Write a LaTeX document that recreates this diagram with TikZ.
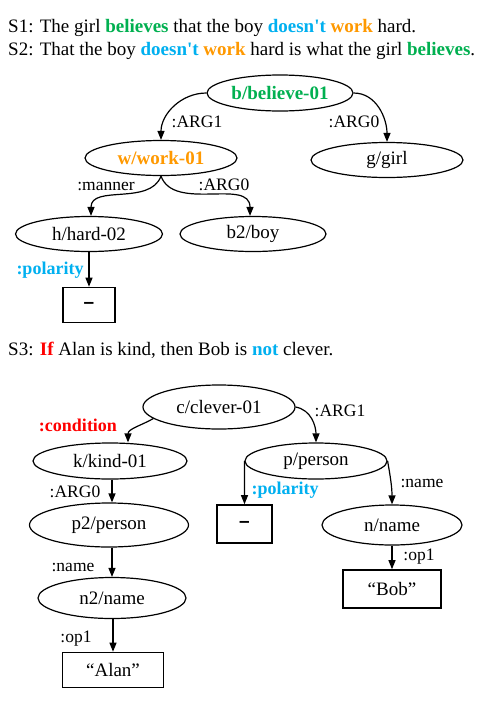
\documentclass[tikz,border=0pt]{standalone}
\usepackage{fontspec}
\setmainfont{Liberation Serif}
\newfontfamily\plainserif{Liberation Serif}
\newfontfamily\dashfont{Liberation Sans}
\usetikzlibrary{shapes.geometric,arrows.meta}
\definecolor{agreen}{HTML}{00B050}
\definecolor{acyan}{HTML}{00B0F0}
\definecolor{aorange}{HTML}{FF9900}
\definecolor{ared}{HTML}{FF0000}
\begin{document}
\begin{tikzpicture}[x=1pt,y=1pt,
  ell/.style={ellipse,draw,line width=1.2pt,inner sep=0pt,font=\fontsize{19}{22}\selectfont},
  sq/.style={rectangle,draw,line width=1.6pt,inner sep=0pt,font=\fontsize{19}{22}\selectfont},
  negbox/.style={sq,font=\fontsize{19}{22}\selectfont\dashfont\bfseries},
  arr/.style={line width=1.2pt,-{Triangle[length=9pt,width=7pt]}},
  lab/.style={inner sep=0pt,font=\fontsize{17.5}{20}\selectfont},
  blab/.style={inner sep=0pt,font=\fontsize{18}{20}\selectfont\bfseries},
  hdr/.style={anchor=base west,inner sep=0pt,font=\fontsize{19}{22}\selectfont}]
\path[use as bounding box,fill=white] (0,0) rectangle (484,-713);

% headers
\node[hdr] (s1) at (8,-32) {S1: The girl \textbf{\color{agreen}believes} that the boy {\plainserif\bfseries\color{acyan}doesn't} \textbf{\color{aorange}work} hard.};
\node[hdr] (s2) at (8,-55) {S2: That the boy {\plainserif\bfseries\color{acyan}doesn't} \textbf{\color{aorange}work} hard is what the girl \textbf{\color{agreen}believes}.};
\node[hdr] (s3) at (8,-355) {S3: \textbf{\color{ared}If} Alan is kind, then Bob is \textbf{\color{acyan}not} clever.};

% top graph
\node[ell,minimum width=146pt,minimum height=36pt,text=agreen,font=\fontsize{19}{22}\selectfont\bfseries] (believe) at (280,-93) {b/believe-01};
\node[ell,minimum width=152pt,minimum height=35pt,text=aorange,font=\fontsize{19}{22}\selectfont\bfseries] (work) at (161,-158) {w/work-01};
\node[ell,minimum width=152pt,minimum height=35pt] (girl) at (387,-160) {g/girl};
\node[ell,minimum width=147pt,minimum height=35pt] (hard) at (89,-234) {h/hard-02};
\node[ell,minimum width=146pt,minimum height=35pt] (boy) at (253,-234) {b2/boy};
\node[negbox,minimum width=52pt,minimum height=35pt] (neg1) at (89,-305) {–};

\draw[arr] (believe.west) to[out=180,in=90] (work.north);
\draw[arr] (believe.east) to[out=0,in=90] (girl.north);
\draw[arr] (work.south) to[out=-110,in=90] ([xshift=2pt]hard.north);
\draw[arr] (work.south) to[out=-70,in=90] ([xshift=-3pt]boy.north);
\draw[arr] (hard.south) -- (neg1.north);

\node[lab] (l1) at (197,-122) {:ARG1};
\node[lab] (l2) at (354,-122) {:ARG0};
\node[lab] (l3) at (106,-186) {:manner};
\node[lab] (l4) at (224,-185) {:ARG0};
\node[blab,text=acyan] (l5) at (50,-270) {:polarity};

% bottom graph
\node[ell,minimum width=152pt,minimum height=44pt] (clever) at (219,-407) {c/clever-01};
\node[ell,minimum width=154pt,minimum height=36pt] (kind) at (110,-461) {k/kind-01};
\node[ell,minimum width=142pt,minimum height=36pt] (person) at (316,-461) {p/person};
\node[ell,minimum width=159pt,minimum height=44pt] (p2) at (109,-525) {p2/person};
\node[negbox,minimum width=55pt,minimum height=38pt] (neg2) at (244.5,-524) {–};
\node[ell,minimum width=140pt,minimum height=40pt] (nname) at (392,-525) {n/name};
\node[ell,minimum width=148pt,minimum height=41pt] (n2name) at (112,-598) {n2/name};
\node[sq,minimum width=98pt,minimum height=38pt] (bob) at (392,-589) {“Bob”};
\node[sq,minimum width=101pt,minimum height=35pt] (alan) at (113,-670) {“Alan”};

\draw[arr] (clever.190) to[out=-150,in=90] ([xshift=18pt]kind.north);
\draw[arr] (clever.east) to[out=-10,in=90] (person.north);
\draw[arr] ([xshift=2pt]kind.south) -- ([xshift=2pt]kind.south |- p2.north);
\draw[arr] (person.west) to[out=-90,in=90] (neg2.north);
\draw[arr] (person.east) to[out=-80,in=90] (nname.north);
\draw[arr] ([xshift=3pt]p2.south) -- ([xshift=3pt]p2.south |- n2name.north);
\draw[arr] ([xshift=1pt]n2name.south) -- (alan.north);
\draw[arr] (nname.south) -- (bob.north);

\node[blab,text=ared] (m1) at (78,-425) {:condition};
\node[lab] (m2) at (340,-411) {:ARG1};
\node[lab] (m3) at (75,-492) {:ARG0};
\node[blab,text=acyan] (m4) at (285,-490) {:polarity};
\node[lab] (m5) at (422,-483) {:name};
\node[lab] (m6) at (73,-567) {:name};
\node[lab] (m7) at (76,-639) {:op1};
\node[lab] (m8) at (419,-557) {:op1};
\end{tikzpicture}
\end{document}
